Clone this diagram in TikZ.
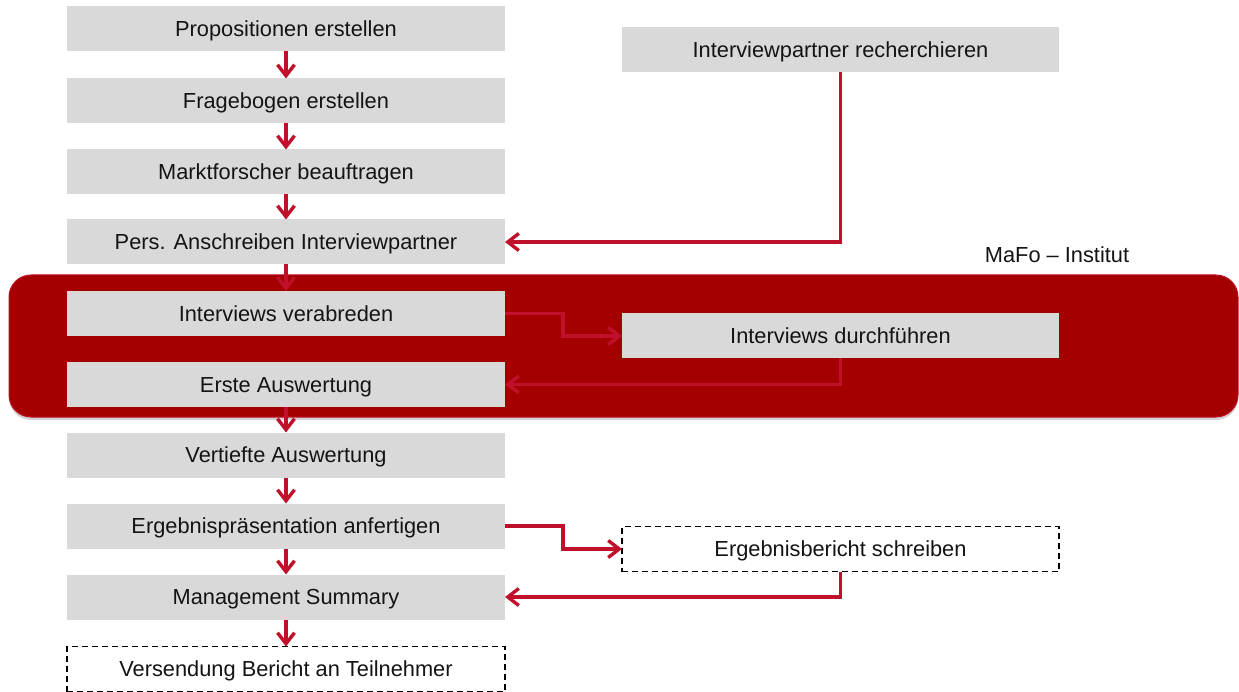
\documentclass[tikz,border=0pt]{standalone}
\usepackage{fontspec}
\setmainfont{Liberation Sans}
\usetikzlibrary{arrows.meta,shadows}
\definecolor{boxgray}{RGB}{217,217,217}
\definecolor{bandred}{RGB}{165,0,0}
\definecolor{bandedge}{RGB}{190,16,40}
\definecolor{arrred}{RGB}{192,16,44}
\definecolor{txt}{RGB}{20,20,20}
\tikzset{
  stepbox/.style={fill=boxgray, draw=none, minimum width=438pt, minimum height=45pt,
    inner sep=0pt, outer sep=0pt, text=txt, font=\fontsize{21.8}{26}\selectfont,
    text height=15.6pt, text depth=0pt},
  dashbox/.style={stepbox, fill=white, draw=black, line width=1.4pt, dash pattern=on 6pt off 4pt},
  arr/.style={draw=arrred, line width=3.4pt, line join=miter,
    -{Straight Barb[length=11pt,width=17pt,line width=3.4pt]}},
}
\begin{document}
\begin{tikzpicture}[x=1pt,y=-1pt]
\useasboundingbox (0,0) rectangle (1239,692);
% left column outside band
\node[stepbox] (b1) at (286,29) {Propositionen erstellen};
\node[stepbox] (b2) at (286,101) {Fragebogen erstellen};
\node[stepbox] (b3) at (286,172) {Marktforscher beauftragen};
\node[stepbox] (b4) at (286,242) {Pers. Anschreiben Interviewpartner};
\node[stepbox] (b7) at (286,455) {Vertiefte Auswertung};
\node[stepbox] (b8) at (286,526) {Ergebnispräsentation anfertigen};
\node[stepbox] (b9) at (286,597) {Management Summary};
\node[dashbox] (b10) at (286,669) {Versendung Bericht an Teilnehmer};
% right column
\node[stepbox, minimum width=437pt] (ir) at (840.5,50) {Interviewpartner recherchieren};
% band
\path[fill=bandred, draw=bandedge, line width=1pt, rounded corners=22pt,
  drop shadow={shadow xshift=0pt, shadow yshift=-3pt, opacity=0.35}]
  (9,275) rectangle (1238,417);
\node[font=\fontsize{21.8}{26}\selectfont, text=txt, inner sep=0pt, text height=15.6pt, text depth=0pt] (mafo) at (1057,255) {MaFo – Institut};
% boxes inside band
\node[stepbox] (b5) at (286,313.5) {Interviews verabreden};
\node[stepbox] (b6) at (286,384.5) {Erste Auswertung};
\node[stepbox, minimum width=437pt] (d) at (840.5,336) {Interviews durchführen};
\node[dashbox, minimum width=437pt] (eb) at (840.5,549) {Ergebnisbericht schreiben};
% vertical arrows
\draw[arr] (b1.south) -- (b2.north);
\draw[arr] (b2.south) -- (b3.north);
\draw[arr] (b3.south) -- (b4.north);
\draw[arr] (b4.south) -- (b5.north);
\draw[arr] (b6.south) -- (b7.north);
\draw[arr] (b7.south) -- (b8.north);
\draw[arr] (b8.south) -- (b9.north);
\draw[arr] (b9.south) -- (b10.north);
% elbow connectors
\draw[arr] (ir.south) |- (b4.east);
\draw[arr] (b5.east) -- ++(58,0) |- (d.west);
\draw[arr] (d.south) |- (b6.east);
\draw[arr] (b8.east) -- ++(58,0) |- (eb.west);
\draw[arr] (eb.south) |- (b9.east);
\end{tikzpicture}
\end{document}
